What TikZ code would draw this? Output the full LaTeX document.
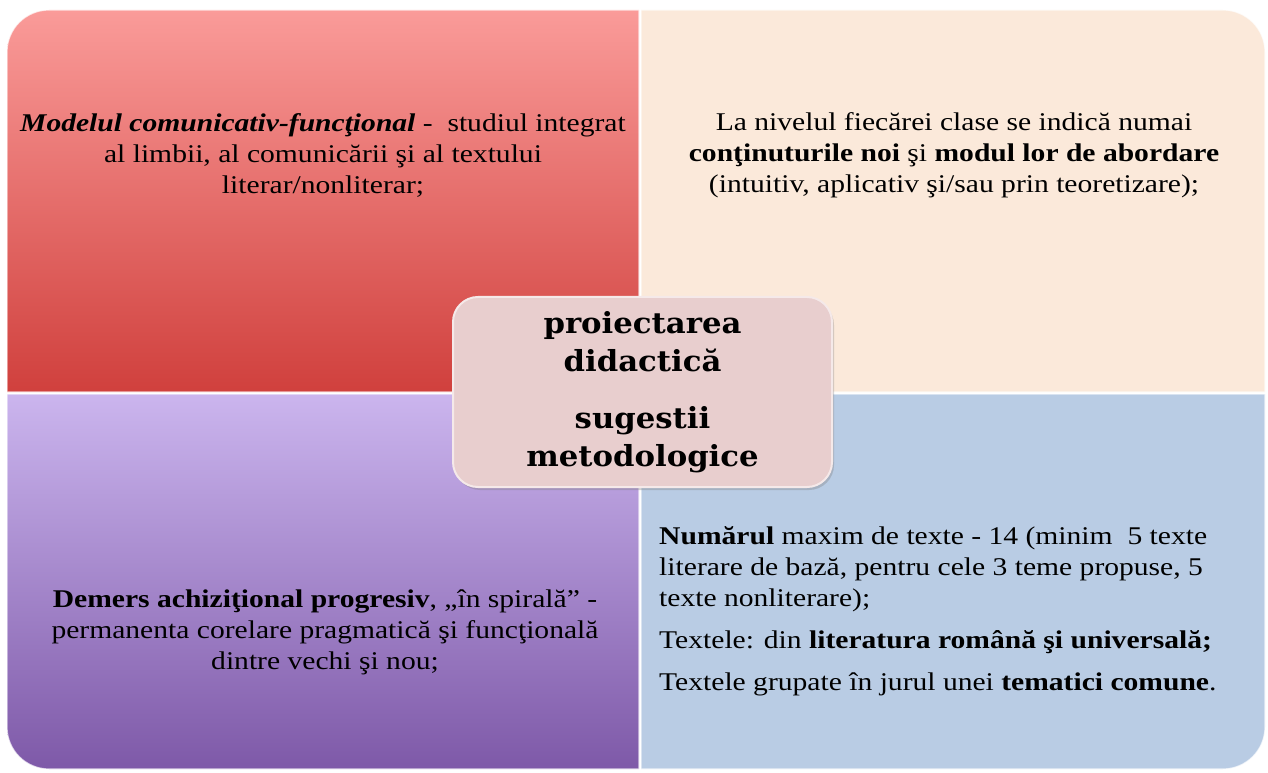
\documentclass[tikz,border=0pt]{standalone}
\usepackage{fontspec}
\setmainfont[FakeStretch=1.16]{Liberation Serif}
\newfontfamily\hubfont[FakeStretch=1.06]{DejaVu Serif}
\usetikzlibrary{shadows}

\definecolor{redtop}{RGB}{250,155,153}
\definecolor{redbot}{RGB}{208,64,61}
\definecolor{peach}{RGB}{251,233,218}
\definecolor{lilactop}{RGB}{203,181,238}
\definecolor{lilacbot}{RGB}{126,89,168}
\definecolor{paleblue}{RGB}{185,204,228}
\definecolor{hubfill}{RGB}{232,206,206}

\tikzset{
  quad/.style={draw=white, draw opacity=.7, line width=1.2pt},
  quadtext/.style={inner sep=0pt, align=center, font=\fontsize{25.5}{31}\selectfont},
  hub/.style={draw=white!55!hubfill, line width=2pt, fill=hubfill, rounded corners=25pt,
    minimum width=379pt, minimum height=190pt, inner sep=0pt, align=center,
    font=\hubfont\bfseries\fontsize{29}{38}\selectfont,
    drop shadow={opacity=.35, shadow xshift=2pt, shadow yshift=-3pt}}
}

\begin{document}
\begin{tikzpicture}[x=1pt,y=1pt]
\useasboundingbox (0,0) rectangle (1268,772);

%Quadrants
\path[quad, top color=redtop, bottom color=redbot] (639,380) -- (7,380) -- (7,720) arc[start angle=180, end angle=90, radius=42pt] -- (639,762) -- cycle;
\path[quad, fill=peach] (641,380) -- (641,762) -- (1223,762) arc[start angle=90, end angle=0, radius=42pt] -- (1265,380) -- cycle;
\path[quad, top color=lilactop, bottom color=lilacbot] (639,378) -- (7,378) -- (7,45) arc[start angle=180, end angle=270, radius=42pt] -- (639,3) -- cycle;
\path[quad, fill=paleblue] (641,378) -- (1265,378) -- (1265,45) arc[start angle=0, end angle=-90, radius=42pt] -- (641,3) -- cycle;

%Quadrant texts
\node[quadtext] (model) at (323,617) {\textbf{\textit{Modelul comunicativ-funcţional}} -\ \ studiul integrat\\ al limbii, al comunicării şi al textului\\ literar/nonliterar;};
\node[quadtext] (nivel) at (954,617) {La nivelul fiecărei clase se indică numai\\ \textbf{conţinuturile noi} şi \textbf{modul lor de abordare}\\ (intuitiv, aplicativ şi/sau prin teoretizare);};
\node[quadtext] (demers) at (325,140) {\textbf{Demers achiziţional progresiv}, „în spirală” -\\ permanenta corelare pragmatică şi funcţională\\ dintre vechi şi nou;};
\node[quadtext, align=left, anchor=west] (texte) at (659,161) {\textbf{Numărul} maxim de texte - 14 (minim\ \ 5 texte\\ literare de bază, pentru cele 3 teme propuse, 5\\ texte nonliterare);\\[11pt] Textele: din \textbf{literatura română şi universală;}\\[11pt] Textele grupate în jurul unei \textbf{tematici comune}.};

%Centre
\node[hub] (core) at (642.5,380) {proiectarea\\ didactică\\[19pt] sugestii\\ metodologice};

\end{tikzpicture}
\end{document}
